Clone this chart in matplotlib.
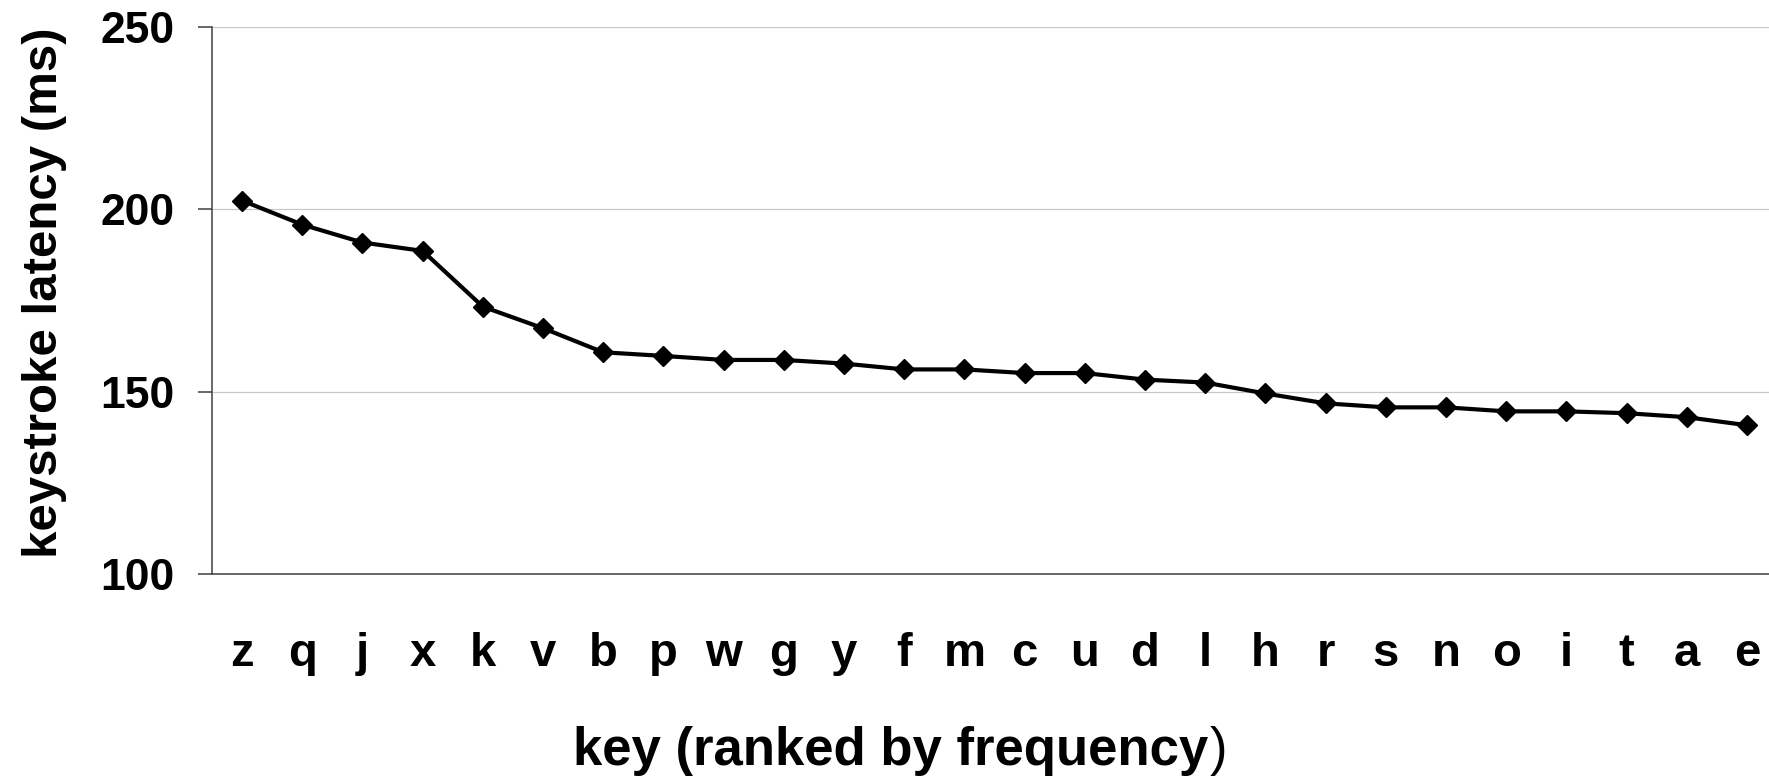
import matplotlib
matplotlib.use("Agg")
import matplotlib.pyplot as plt

# keys ranked by frequency (rarest first) and mean keystroke latency in ms
keys = ["z", "q", "j", "x", "k", "v", "b", "p", "w", "g", "y", "f", "m",
        "c", "u", "d", "l", "h", "r", "s", "n", "o", "i", "t", "a", "e"]
latency = [202.4, 195.8, 190.9, 188.6, 173.3, 167.4, 160.8, 159.8, 158.7,
           158.7, 157.7, 156.1, 156.1, 155.1, 155.1, 153.3, 152.5, 149.5,
           146.8, 145.7, 145.7, 144.6, 144.6, 144.1, 143.0, 140.8]
y_ticks = [100, 150, 200, 250]

plt.rcParams["font.family"] = ["Liberation Sans", "DejaVu Sans"]
plt.rcParams["font.weight"] = "bold"

W, H = 1769, 779
fig = plt.figure(figsize=(W / 100, H / 100), dpi=100)
# plot area runs past the right edge, as in the original
ax = fig.add_axes([212 / W, 1 - 574 / H, 1565 / W, 547 / H])

x = list(range(len(keys)))
ax.plot(x, latency, color="black", linewidth=3.0, marker="D",
        markersize=10, markerfacecolor="black", markeredgecolor="black",
        zorder=3, clip_on=False)

ax.set_xlim(-0.5, len(keys) - 0.5)
ax.set_ylim(100, 250)
ax.set_yticks(y_ticks)
ax.set_xticks(x)
ax.set_xticklabels(keys)

ax.grid(axis="y", color="#c8c8c8", linewidth=0.9)
ax.set_axisbelow(True)
for side in ("top", "right"):
    ax.spines[side].set_visible(False)
for side in ("left", "bottom"):
    ax.spines[side].set_color("#404040")
    ax.spines[side].set_linewidth(1.1)

ax.tick_params(axis="y", length=10, width=1.1, color="#404040", pad=17,
               labelsize=32)
ax.tick_params(axis="x", length=0, pad=42, labelsize=34)
for lab in ax.get_xticklabels() + ax.get_yticklabels():
    lab.set_fontweight("bold")

fig.text(45 / W, 1 - 293 / H, "keystroke latency (ms)", rotation=90,
         ha="center", va="center", fontsize=35.5, fontweight="bold")

xl = fig.text(573 / W, 1 - 765 / H, "key (ranked by frequency", ha="left",
              va="baseline", fontsize=38, fontweight="bold")
# the closing bracket is set in a lighter weight in the source
ax.annotate(")", xy=(1, 0), xycoords=xl, xytext=(1, 0),
            textcoords="offset points", ha="left", va="bottom",
            fontsize=38, fontweight="normal", annotation_clip=False)

fig.savefig("out.png", dpi=100)
